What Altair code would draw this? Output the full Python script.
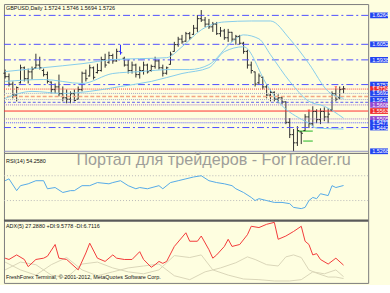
import altair as alt
import pandas as pd

# ---------------- data ----------------
date_labels = ['17 Feb 2012', '29 Feb 2012', '12 Mar 2012', '22 Mar 2012', '3 Apr 2012',
               '13 Apr 2012', '25 Apr 2012', '7 May 2012', '17 May 2012', '29 May 2012',
               '8 Jun 2012', '20 Jun 2012']
date_ticks = [0, 8, 16, 24, 32, 40, 48, 56, 64, 72, 80, 88]

opens = [1.5840, 1.5815, 1.5760, 1.5680, 1.5770, 1.5880, 1.5800, 1.5850, 1.5880, 1.5900,
         1.5860, 1.5830, 1.5775, 1.5720, 1.5740, 1.5690, 1.5660, 1.5650, 1.5690, 1.5650,
         1.5720, 1.5840, 1.5820, 1.5880, 1.5845, 1.5860, 1.5940, 1.5920, 1.5970, 1.5930,
         1.6000, 1.5950, 1.5900, 1.5860, 1.5900, 1.5830, 1.5860, 1.5900, 1.5860, 1.5890,
         1.5930, 1.5880, 1.5840, 1.5905, 1.6000, 1.6050, 1.6090, 1.6075, 1.6130, 1.6125,
         1.6170, 1.6240, 1.6230, 1.6200, 1.6180, 1.6200, 1.6130, 1.6150, 1.6100, 1.6140,
         1.6090, 1.6110, 1.6060, 1.6000, 1.5900, 1.5850, 1.5770, 1.5810, 1.5740, 1.5680,
         1.5700, 1.5650, 1.5660, 1.5630, 1.5480, 1.5390, 1.5330, 1.5410, 1.5420, 1.5520,
         1.5470, 1.5560, 1.5500, 1.5560, 1.5520, 1.5570, 1.5690, 1.5660, 1.5724]
highs = [1.5867, 1.5838, 1.5780, 1.5743, 1.5903, 1.5889, 1.5874, 1.5889, 1.5983, 1.5961,
         1.5874, 1.5852, 1.5780, 1.5765, 1.5830, 1.5743, 1.5721, 1.5707, 1.5721, 1.5743,
         1.5852, 1.5867, 1.5903, 1.5889, 1.5910, 1.5961, 1.5983, 1.5998, 1.5983, 1.6020,
         1.6049, 1.5961, 1.5940, 1.5925, 1.5910, 1.5889, 1.5925, 1.5910, 1.5903, 1.5961,
         1.5940, 1.5903, 1.5889, 1.5998, 1.6070, 1.6107, 1.6121, 1.6143, 1.6143, 1.6194,
         1.6267, 1.6303, 1.6252, 1.6238, 1.6216, 1.6216, 1.6179, 1.6165, 1.6165, 1.6143,
         1.6121, 1.6121, 1.6070, 1.6012, 1.5925, 1.5852, 1.5838, 1.5816, 1.5758, 1.5721,
         1.5707, 1.5685, 1.5670, 1.5634, 1.5511, 1.5431, 1.5452, 1.5416, 1.5540, 1.5561,
         1.5598, 1.5576, 1.5583, 1.5590, 1.5583, 1.5707, 1.5729, 1.5743, 1.5746]
lows = [1.5801, 1.5743, 1.5656, 1.5634, 1.5765, 1.5780, 1.5765, 1.5794, 1.5874, 1.5867,
        1.5816, 1.5765, 1.5692, 1.5692, 1.5670, 1.5634, 1.5620, 1.5620, 1.5634, 1.5649,
        1.5707, 1.5780, 1.5816, 1.5794, 1.5838, 1.5852, 1.5881, 1.5910, 1.5910, 1.5925,
        1.5976, 1.5889, 1.5838, 1.5838, 1.5809, 1.5801, 1.5830, 1.5838, 1.5852, 1.5874,
        1.5867, 1.5816, 1.5830, 1.5903, 1.5998, 1.6034, 1.6056, 1.6070, 1.6085, 1.6121,
        1.6143, 1.6216, 1.6179, 1.6165, 1.6143, 1.6121, 1.6107, 1.6085, 1.6070, 1.6070,
        1.6049, 1.6049, 1.5983, 1.5874, 1.5838, 1.5743, 1.5758, 1.5721, 1.5656, 1.5634,
        1.5634, 1.5620, 1.5612, 1.5467, 1.5365, 1.5268, 1.5307, 1.5321, 1.5416, 1.5438,
        1.5452, 1.5474, 1.5467, 1.5489, 1.5474, 1.5561, 1.5634, 1.5649, 1.5694]
closes = [1.5815, 1.5760, 1.5680, 1.5735, 1.5880, 1.5800, 1.5850, 1.5870, 1.5900, 1.5880,
          1.5830, 1.5780, 1.5720, 1.5740, 1.5690, 1.5660, 1.5650, 1.5690, 1.5640, 1.5720,
          1.5840, 1.5800, 1.5880, 1.5810, 1.5860, 1.5940, 1.5900, 1.5970, 1.5930, 1.6000,
          1.5990, 1.5900, 1.5860, 1.5900, 1.5830, 1.5860, 1.5900, 1.5850, 1.5890, 1.5930,
          1.5880, 1.5840, 1.5880, 1.5980, 1.6050, 1.6090, 1.6070, 1.6130, 1.6100, 1.6170,
          1.6240, 1.6230, 1.6200, 1.6180, 1.6200, 1.6130, 1.6150, 1.6100, 1.6140, 1.6090,
          1.6110, 1.6060, 1.6000, 1.5900, 1.5860, 1.5760, 1.5820, 1.5740, 1.5680, 1.5700,
          1.5650, 1.5660, 1.5630, 1.5480, 1.5390, 1.5330, 1.5420, 1.5400, 1.5520, 1.5470,
          1.5560, 1.5500, 1.5560, 1.5520, 1.5540, 1.5690, 1.5650, 1.5720, 1.5726]

# horizontal level lines
level_prices = [1.6264, 1.6052, 1.5938, 1.5757, 1.5724, 1.5692, 1.5670, 1.5647, 1.5627,
                1.5608, 1.5563, 1.5505, 1.5477, 1.5442, 1.5268]
level_kinds = ['dashdot', 'dashdot', 'dashdot', 'dashdot', 'reddot', 'graydot', 'salmon',
               'graydot', 'bluedash', 'purpledot', 'redsolid', 'purpledot', 'bluedot',
               'dashdot', 'floor']

# coloured price labels on the right scale
box_prices = [1.6264, 1.6052, 1.5938, 1.5757, 1.5724, 1.5692, 1.5647, 1.5608, 1.5563,
              1.5505, 1.5477, 1.5442, 1.5268]
box_texts = ['1.6264', '1.6052', '1.5938', '1.5757', '1.5724', '1.5692', '1.5647', '1.5608',
             '1.5563', '1.5505', '1.5477', '1.5442', '1.5268']
box_kinds = ['blue', 'blue', 'blue', 'blue', 'red', 'blue', 'blue', 'purple', 'red',
             'purple', 'blue', 'blue', 'blue']

price_ticks = [1.6325, 1.6205, 1.6085, 1.5965, 1.5845, 1.5725, 1.5605, 1.5485, 1.5365]

# light-blue envelope curves (bar index, price)
upper_idx = [0, 10, 20, 28, 35, 42, 46, 51, 57, 64, 69, 74, 79, 84, 88]
upper_val = [1.5852, 1.5881, 1.5910, 1.5940, 1.5947, 1.5954, 1.6034, 1.6158, 1.6216,
             1.6223, 1.6223, 1.6092, 1.5910, 1.5707, 1.5656]
mid_idx = [0, 10, 20, 28, 35, 43, 48, 53, 59, 62, 66, 69, 74, 79, 83, 88]
mid_val = [1.5780, 1.5794, 1.5765, 1.5838, 1.5852, 1.5867, 1.5867, 1.5903, 1.6070,
           1.6121, 1.6092, 1.5976, 1.5780, 1.5634, 1.5598, 1.5511]
low_idx = [0, 7, 15, 22, 30, 38, 46, 53, 57, 62, 68, 71, 77, 79, 81, 88]
low_val = [1.5656, 1.5707, 1.5692, 1.5707, 1.5743, 1.5780, 1.5838, 1.5881, 1.5998,
           1.6034, 1.5758, 1.5634, 1.5503, 1.5474, 1.5438, 1.5431]

# green segments
green_start = [76, 77.5]
green_end = [80, 80]
green_price = [1.5416, 1.5343]

# red arrows
arrow_idx = [79, 86]
arrow_price = [1.5565, 1.5735]

# RSI(14)
rsi_idx = [0, 1, 3, 4, 6, 8, 10, 11, 13, 15, 17, 18, 20, 22, 24, 27, 28, 30, 32, 34, 35,
           37, 40, 41, 43, 45, 47, 49, 51, 53, 55, 57, 59, 60, 62, 64, 65, 66, 68, 70, 72,
           74, 75, 77, 78, 79, 80, 81, 82, 84, 85, 86, 88]
rsi_val = [62, 65, 46, 54, 57, 62, 62, 49, 51, 43, 46, 46, 54, 54, 59, 57, 59, 62, 54, 49,
           51, 49, 54, 49, 59, 62, 65, 68, 70, 62, 59, 57, 54, 49, 43, 35, 30, 33, 30, 27,
           27, 25, 19, 17, 19, 30, 35, 33, 41, 38, 54, 51, 54.26]

# ADX(5)
adx_idx = [0, 1, 3, 5, 6, 8, 10, 11, 13, 14, 16, 19, 21, 22, 24, 26, 28, 29, 31, 33, 35,
           36, 38, 39, 40, 41, 42, 44, 47, 48, 50, 51, 53, 54, 55, 57, 58, 59, 61, 63, 64,
           66, 68, 70, 71, 73, 75, 77, 78, 79, 80, 81, 82, 84, 86, 88]
adx_val = [38, 36, 43, 36, 25, 36, 38, 41, 59, 38, 36, 20, 46, 61, 38, 33, 43, 38, 36, 36,
           48, 36, 24, 28, 33, 30, 33, 56, 77, 64, 64, 72, 51, 38, 43, 56, 67, 56, 59, 74,
           87, 85, 90, 93, 67, 72, 79, 87, 64, 59, 43, 45, 36, 29, 38, 27.29]
pdi_idx = [0, 4, 8, 12, 16, 20, 24, 28, 32, 36, 40, 44, 48, 51, 54, 58, 62, 66, 70, 74,
           77, 80, 83, 86, 88]
pdi_val = [20, 32, 28, 12, 8, 29, 32, 23, 17, 14, 20, 42, 39, 43, 20, 12, 6, 5, 3, 3, 5,
           17, 14, 20, 9.58]
mdi_idx = [0, 4, 8, 12, 16, 20, 24, 28, 32, 36, 40, 44, 48, 52, 56, 60, 63, 65, 68, 71,
           73, 75, 77, 79, 81, 84, 86, 88]
mdi_val = [32, 20, 12, 28, 39, 20, 11, 17, 23, 26, 29, 11, 5, 17, 23, 31, 40, 36, 28, 26,
           40, 43, 39, 20, 15, 9, 9, 6.71]

# ---------------- chart ----------------
W = 367
FONT = 'Liberation Sans'
FS = 5.5
xs = alt.Scale(domain=[-0.3, 94.4], nice=False, zero=False)
ps = alt.Scale(domain=[1.5256, 1.6347], nice=False, zero=False)
rs = alt.Scale(domain=[-2, 106.8], nice=False, zero=False)
ads = alt.Scale(domain=[0, 96], nice=False, zero=False)

bars = pd.DataFrame({'idx': list(range(len(opens))), 'o': opens, 'h': highs,
                     'l': lows, 'c': closes})
levels = pd.DataFrame({'p': level_prices, 'k': level_kinds})
boxes = pd.DataFrame({'p': box_prices, 't': box_texts, 'k': box_kinds})
curves = pd.concat([
    pd.DataFrame({'idx': upper_idx, 'p': upper_val, 's': 'u'}),
    pd.DataFrame({'idx': mid_idx, 'p': mid_val, 's': 'm'}),
    pd.DataFrame({'idx': low_idx, 'p': low_val, 's': 'l'}),
])
greens = pd.DataFrame({'a': green_start, 'b': green_end, 'p': green_price})
arrows = pd.DataFrame({'idx': arrow_idx, 'p': arrow_price})

X = alt.X('idx:Q', scale=xs, axis=None)

def raxis(vals, fmt=None):
    kw = dict(orient='right', values=vals, labelFontSize=FS, labelFont=FONT, tickSize=2,
              labelPadding=1, domain=False, grid=False, title=None, labelColor='#222222',
              tickColor='#666666', labelOverlap=False, labelFlush=False, labelBound=False)
    if fmt:
        kw['format'] = fmt
    return alt.Axis(**kw)

styles = {
    'dashdot': dict(color='#5050FF', strokeDash=[7, 3, 2, 3]),
    'reddot': dict(color='#FF3B3B', strokeDash=[1, 1]),
    'graydot': dict(color='#A8A8C8', strokeDash=[1, 1]),
    'salmon': dict(color='#F4A582', strokeDash=[4, 2], strokeWidth=1.5),
    'bluedash': dict(color='#6060F0', strokeDash=[3, 2]),
    'purpledot': dict(color='#A070D0', strokeDash=[1, 1]),
    'redsolid': dict(color='#FF3030'),
    'bluedot': dict(color='#5A5AFF', strokeDash=[1, 1]),
    'floor': dict(color='#9090C0'),
}
level_layers = []
for k, st in styles.items():
    level_layers.append(
        alt.Chart(levels).transform_filter(alt.datum.k == k)
        .mark_rule(strokeWidth=st.pop('strokeWidth', 1), **st)
        .encode(y=alt.Y('p:Q', scale=ps, axis=None))
    )

curve_layer = alt.Chart(curves).mark_line(color='#86CDEB', strokeWidth=1,
                                          interpolate='monotone').encode(
    x=X, y=alt.Y('p:Q', scale=ps, axis=None), detail='s:N')

green_layer = alt.Chart(greens).mark_rule(color='#22B522', strokeWidth=1).encode(
    x=alt.X('a:Q', scale=xs, axis=None), x2='b:Q', y=alt.Y('p:Q', scale=ps, axis=None))

bar_color = alt.condition(alt.datum.idx == 30, alt.value('#2a2aff'), alt.value('#2f2f2f'))
hl = alt.Chart(bars).mark_rule(strokeWidth=1).encode(
    x=X, y=alt.Y('l:Q', scale=ps, axis=raxis(price_ticks, '.4f')), y2='h:Q', color=bar_color)
ot = alt.Chart(bars).transform_calculate(xa='datum.idx - 0.45').mark_rule(strokeWidth=1).encode(
    x=alt.X('xa:Q', scale=xs, axis=None), x2='idx:Q',
    y=alt.Y('o:Q', scale=ps, axis=None), color=bar_color)
ct = alt.Chart(bars).transform_calculate(xb='datum.idx + 0.45').mark_rule(strokeWidth=1).encode(
    x=X, x2='xb:Q', y=alt.Y('c:Q', scale=ps, axis=None), color=bar_color)

arrow_layer = alt.Chart(arrows).mark_point(shape='triangle-down', filled=True, size=8,
                                           color='#FF2020').encode(
    x=X, y=alt.Y('p:Q', scale=ps, axis=None))

box_rect = alt.Chart(boxes).transform_calculate(
    lo='datum.p - 0.0021', hi='datum.p + 0.0021').mark_rect().encode(
    x=alt.value(W + 2), x2=alt.value(W + 20),
    y=alt.Y('lo:Q', scale=ps, axis=None), y2='hi:Q',
    color=alt.Color('k:N', scale=alt.Scale(domain=['blue', 'red', 'purple'],
                                           range=['#2343F0', '#F02A2A', '#9448D0']),
                    legend=None))
box_text = alt.Chart(boxes).mark_text(align='left', baseline='middle', fontSize=FS,
                                      font=FONT, color='white').encode(
    x=alt.value(W + 4), y=alt.Y('p:Q', scale=ps, axis=None), text='t:N')

title_text = alt.Chart(pd.DataFrame({'t': ['GBPUSD,Daily  1.5724 1.5746 1.5694 1.5726']})).mark_text(
    align='left', baseline='middle', fontSize=FS, font=FONT, color='#111111').encode(
    x=alt.value(2), y=alt.value(3.5), text='t:N')

main = alt.layer(hl, *level_layers, curve_layer, green_layer, ot, ct, arrow_layer,
                 box_rect, box_text, title_text).properties(width=W, height=150)

# RSI panel
rsi_df = pd.DataFrame({'idx': rsi_idx, 'v': rsi_val})
rsi_lv = alt.Chart(pd.DataFrame({'v': [30, 70]})).mark_rule(
    color='#B8B8B8', strokeDash=[1, 2]).encode(y=alt.Y('v:Q', scale=rs, axis=raxis([0, 30, 70])))
rsi_line = alt.Chart(rsi_df).mark_line(color='#55A9E8', strokeWidth=1).encode(
    x=X, y=alt.Y('v:Q', scale=rs, axis=None))
rsi_lab = alt.Chart(pd.DataFrame({'t': ['RSI(14) 54.2580']})).mark_text(
    align='left', baseline='middle', fontSize=FS, font=FONT, color='#111111').encode(
    x=alt.value(2), y=alt.value(8.5), text='t:N')
watermark = alt.Chart(pd.DataFrame({'t': ['Портал для трейдеров - ForTrader.ru']})).mark_text(
    align='left', baseline='alphabetic', fontSize=16.3, font=FONT, color='#8E8E8E',
    opacity=0.85).encode(x=alt.value(73), y=alt.value(12), text='t:N')
rsi = alt.layer(rsi_lv, rsi_line, rsi_lab, watermark).properties(width=W, height=68)

# ADX panel
adx_df = pd.DataFrame({'idx': adx_idx, 'v': adx_val})
di_df = pd.concat([pd.DataFrame({'idx': pdi_idx, 'v': pdi_val, 's': 'p'}),
                   pd.DataFrame({'idx': mdi_idx, 'v': mdi_val, 's': 'm'})])
label_expr = ('[' + ','.join("'%s'" % d for d in date_labels) + '][indexof('
              + str(date_ticks) + ', datum.value)]')
x_axis = alt.Axis(values=date_ticks, labelExpr=label_expr, labelAlign='left',
                  labelFontSize=FS, labelFont=FONT, tickSize=2, labelPadding=1,
                  domain=False, grid=False, title=None, labelOverlap=False,
                  labelBound=False, labelFlush=False, labelColor='#222222',
                  tickColor='#666666')
di_line = alt.Chart(di_df).mark_line(color='#DAD6B8', strokeWidth=1).encode(
    x=alt.X('idx:Q', scale=xs, axis=x_axis),
    y=alt.Y('v:Q', scale=ads, axis=raxis([0, 23, 47, 70, 94])),
    detail='s:N')
adx_line = alt.Chart(adx_df).mark_line(color='#F23A3A', strokeWidth=1).encode(
    x=X, y=alt.Y('v:Q', scale=ads, axis=None))
adx_lab = alt.Chart(pd.DataFrame({'t': ['ADX(5) 27.2880 +DI:9.5778 -DI:6.7116']})).mark_text(
    align='left', baseline='middle', fontSize=FS, font=FONT, color='#111111').encode(
    x=alt.value(2), y=alt.value(5.5), text='t:N')
copy_lab = alt.Chart(pd.DataFrame({'t': ['FreshForex Terminal, © 2001-2012, MetaQuotes Software Corp.']})).mark_text(
    align='left', baseline='middle', fontSize=FS, font=FONT, color='#111111').encode(
    x=alt.value(2), y=alt.value(57), text='t:N')
sep = alt.Chart(pd.DataFrame({'a': [0]})).mark_rule(color='#5A5A5A', strokeWidth=2).encode(
    x=alt.value(0), x2=alt.value(W), y=alt.value(0))
adx = alt.layer(di_line, adx_line, adx_lab, copy_lab, sep).properties(width=W, height=63)

chart = alt.vconcat(main, rsi, adx, spacing=0, bounds='flush').properties(
    background='#FEFEE0',
    padding={'left': 2, 'top': 2, 'right': 0, 'bottom': 0},
).configure_view(stroke='#7C7C7C', strokeWidth=1)

chart.save('out.html', embed_options={'renderer': 'svg', 'actions': False})
